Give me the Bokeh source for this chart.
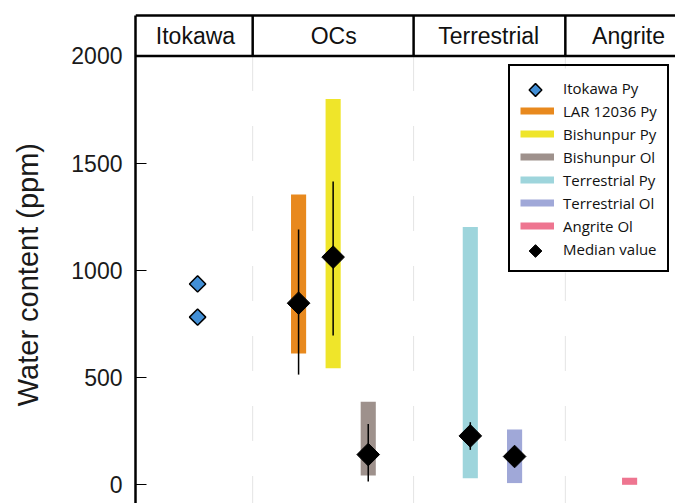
import math
from bokeh.plotting import figure
from bokeh.models import Range1d, FixedTicker, Span, Legend, LegendItem, ColumnDataSource
from bokeh.core.properties import value
from bokeh.embed import file_html
from bokeh.resources import INLINE

# ---- data ----
groups = ["Itokawa", "OCs", "Terrestrial", "Angrite"]
group_centers = [1.11, 3.67, 6.54, 9.13]
group_edges = [2.17, 5.15, 7.96]

itokawa_x = [1.15, 1.15]
itokawa_py = [937, 782]

series = ["LAR 12036 Py", "Bishunpur Py", "Bishunpur Ol",
          "Terrestrial Py", "Terrestrial Ol", "Angrite Ol"]
series_x = [3.02, 3.66, 4.31, 6.20, 7.02, 9.15]
range_low = [612, 544, 43, 31, 8, 0]
range_high = [1354, 1800, 387, 1202, 258, 33]
colors = ["#e8891e", "#efe52a", "#9e918c", "#9ed5dc", "#a0a8d8", "#ee7590"]

median_x = [3.02, 3.66, 4.31, 6.20, 7.02]
median_val = [847, 1062, 141, 228, 132]

err_x = [3.02, 3.66, 4.31, 6.20]
err_low = [514, 696, 15, 163]
err_high = [1191, 1415, 284, 292]

y_ticks = [0, 500, 1000, 1500, 2000]
y_top = 2000
header_top = 2189
y_start, y_end = -87.2, 2198.2
x_start, x_end = 0, 10

FONT = "Liberation Sans"
ITOKAWA_BLUE = "#428fd6"
W, H, LEFT, TOP = 675, 503, 135, 13

p = figure(width=W, height=H, output_backend="svg", toolbar_location=None,
           x_range=Range1d(x_start, x_end), y_range=Range1d(y_start, y_end),
           x_axis_location=None, min_border_left=LEFT, min_border_right=0,
           min_border_top=TOP, min_border_bottom=0)
p.outline_line_color = None
p.xgrid.visible = False
p.ygrid.visible = False

# y axis
ax = p.yaxis[0]
ax.ticker = FixedTicker(ticks=y_ticks)
ax.bounds = (y_start, header_top)
ax.axis_line_width = 2.5
ax.axis_line_color = "black"
ax.major_tick_in = 11
ax.major_tick_out = 0
ax.minor_tick_line_color = None
ax.major_tick_line_width = 1
ax.major_label_text_font = FONT
ax.major_label_text_font_size = "23px"
ax.major_label_text_color = "#1a1a1a"
ax.major_label_standoff = 13
# trailing no-break spaces push the title down onto the 0-2000 span
ax.axis_label = "Water content (ppm)" + "\u00a0" * 4
ax.axis_label_text_font = FONT
ax.axis_label_text_font_size = "29px"
ax.axis_label_text_font_style = "normal"
ax.axis_label_text_color = "#1a1a1a"
ax.axis_label_standoff = 24

# dashed separators inside plot
p.segment(x0=group_edges, y0=[y_top] * len(group_edges), x1=group_edges,
          y1=[y_start] * len(group_edges), line_color="#e4e4e4", line_width=1,
          line_dash="35 35")

# header
p.add_layout(Span(location=y_top, dimension="width", line_color="black", line_width=2.5))
p.add_layout(Span(location=header_top, dimension="width", line_color="black", line_width=2.5))
p.segment(x0=group_edges, y0=[y_top] * len(group_edges), x1=group_edges,
          y1=[header_top] * len(group_edges), line_color="black", line_width=2.5)
p.text(x=group_centers, y=[(y_top + header_top) / 2] * len(groups), text=groups,
       text_font=value(FONT), text_font_size="23px", text_align="center",
       text_baseline="middle", text_color="#111111")

# range bars
src = ColumnDataSource(dict(x=series_x, lo=range_low, hi=range_high, c=colors))
p.vbar(x="x", bottom="lo", top="hi", width=0.28, fill_color="c", line_color=None, source=src)

# error lines
p.segment(x0=err_x, y0=err_low, x1=err_x, y1=err_high, line_color="black", line_width=1.5)

# Itokawa points
p.scatter(x=itokawa_x, y=itokawa_py, marker="square", angle=math.pi / 4, size=11.5,
          fill_color=ITOKAWA_BLUE, line_color="black", line_width=1.5)

# medians
p.scatter(x=median_x, y=median_val, marker="square", angle=math.pi / 4, size=16,
          fill_color="black", line_color="black")

# ---------------- legend ----------------
LEG_X, LEG_Y, PAD, ROW, GW, LEG_W = 373, 231, 10, 23, 34, 158
frame_w, frame_h = W - LEFT, H - TOP

def to_data(sx, sy):
    return (x_start + sx / frame_w * (x_end - x_start),
            y_start + sy / frame_h * (y_end - y_start))

nan = float("nan")
blank_ito = p.line(x=[nan], y=[nan], line_alpha=0)
blank_med = p.line(x=[nan], y=[nan], line_alpha=0)
items = [LegendItem(label="Itokawa Py", renderers=[blank_ito])]
for name, c in zip(series, colors):
    r = p.line(x=[nan], y=[nan], line_color=c, line_width=7)
    items.append(LegendItem(label=name, renderers=[r]))
items.append(LegendItem(label="Median value", renderers=[blank_med]))
n_rows = len(items)

# white backing of the legend box (hides the dashed separator behind it)
bl = to_data(LEG_X, LEG_Y)
tr = to_data(LEG_X + LEG_W, LEG_Y + 2 * PAD + n_rows * ROW)
p.quad(left=[bl[0]], right=[tr[0]], bottom=[bl[1]], top=[tr[1]],
       fill_color="white", line_color=None)

# diamond symbols of the two marker entries
gx = LEG_X + PAD + GW / 2
ix, iy = to_data(gx, LEG_Y + PAD + (n_rows - 0.5) * ROW)
mx, my = to_data(gx, LEG_Y + PAD + 0.5 * ROW)
p.scatter(x=[ix], y=[iy], marker="square", angle=math.pi / 4, size=9,
          fill_color=ITOKAWA_BLUE, line_color="black", line_width=1.5)
p.scatter(x=[mx], y=[my], marker="square", angle=math.pi / 4, size=9,
          fill_color="black", line_color="black")

leg = Legend(items=items, location=(LEG_X, LEG_Y), glyph_width=GW, glyph_height=ROW,
             label_height=ROW, spacing=0, padding=PAD, label_standoff=9,
             label_text_font="Open Sans", label_text_font_size="15px",
             label_text_color="#111111",
             border_line_color="black", border_line_alpha=1.0, border_line_width=2.5,
             background_fill_alpha=0.0)
p.add_layout(leg, "center")

open("out.html", "w").write(file_html(p, INLINE))
